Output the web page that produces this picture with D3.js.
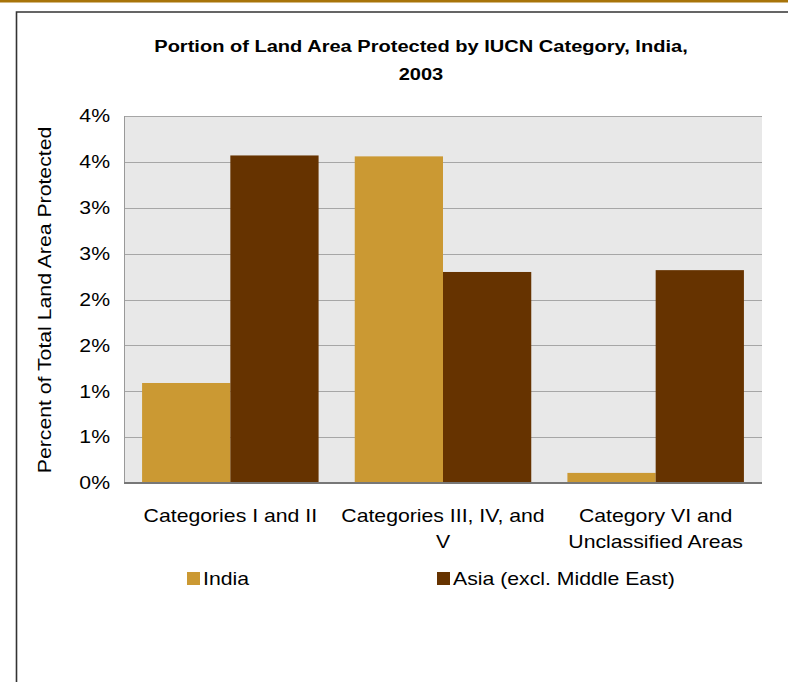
<!DOCTYPE html>
<html>
<head>
<meta charset="utf-8">
<script src="https://cdn.jsdelivr.net/npm/d3@7"></script>
<style>
  body { margin: 0; background: #fff; }
  svg { display: block; font-family: Arial, "Liberation Sans", sans-serif; }
</style>
</head>
<body>
<svg id="svg1"></svg>
<script>
// data
const categories = [["Categories I and II"], ["Categories III, IV, and", "V"], ["Category VI and", "Unclassified Areas"]];
const seriesNames = ["India", "Asia (excl. Middle East)"];
const india = [0.0109, 0.0356, 0.0011];
const asia = [0.0357, 0.0230, 0.0232];
const tickValues = [0, 0.005, 0.01, 0.015, 0.02, 0.025, 0.03, 0.035, 0.04];
const tickLabels = ["0%", "1%", "1%", "2%", "2%", "3%", "3%", "4%", "4%"];
const colors = ["#CB9933", "#663300"];

const W = 788, H = 682;
const marginLeft = 124, marginRight = 26, marginTop = 116, marginBottom = 199;
const width = W - marginLeft - marginRight;
const height = H - marginTop - marginBottom;
const stretch = 1.18; // the original text is drawn a bit wide

const svg = d3.select("#svg1").attr("width", W).attr("height", H);

// top band and frame
svg.append("rect").attr("x", 0).attr("y", 0).attr("width", W).attr("height", 2.5).attr("fill", "#A8740A");
svg.append("path")
    .attr("d", `M16.5,${H} V12 H${W}`)
    .attr("fill", "none").attr("stroke", "#333").attr("stroke-width", 1.6);

// title
const titleX = 421;
const title = svg.append("text")
    .attr("x", titleX).attr("y", 52)
    .attr("text-anchor", "middle")
    .attr("font-weight", "bold").attr("font-size", 17).attr("fill", "#000");
title.append("tspan").attr("x", titleX).text("Portion of Land Area Protected by IUCN Category, India,");
title.append("tspan").attr("x", titleX).attr("dy", 28).text("2003");

const chart = svg.append("g").attr("transform", `translate(${marginLeft}, ${marginTop})`);

const xScale = d3.scaleBand()
    .domain(d3.range(categories.length))
    .range([0, width])
    .paddingInner(0.17)
    .paddingOuter(0.085);

const xInner = d3.scaleBand()
    .domain(d3.range(seriesNames.length))
    .range([0, xScale.bandwidth()]);

const yScale = d3.scaleLinear()
    .domain([0, 0.04])
    .range([height, 0]);

chart.append("rect")
    .attr("width", width).attr("height", height)
    .attr("fill", "#E8E8E8");

// gridlines
chart.append("g")
    .selectAll("line")
    .data(tickValues.slice(1))
    .enter().append("line")
    .attr("x1", 0).attr("x2", width)
    .attr("y1", d => Math.round(yScale(d)) + 0.5)
    .attr("y2", d => Math.round(yScale(d)) + 0.5)
    .attr("stroke", "#A6A6A6").attr("stroke-width", 1);

// left axis line
chart.append("line")
    .attr("x1", 0.5).attr("x2", 0.5).attr("y1", 0).attr("y2", height)
    .attr("stroke", "#999");

const series = [india, asia];
series.forEach(function(vals, s) {
  chart.selectAll(".bar" + s)
      .data(vals)
      .enter().append("rect")
      .attr("class", "bar" + s)
      .attr("fill", colors[s])
      .attr("x", (d, i) => xScale(i) + xInner(s))
      .attr("y", d => yScale(d))
      .attr("width", xInner.bandwidth())
      .attr("height", d => height - yScale(d));
});

// bottom axis line
chart.append("line")
    .attr("x1", 0).attr("x2", width).attr("y1", height).attr("y2", height)
    .attr("stroke", "#777").attr("stroke-width", 2);

// y tick labels
const yAxis = chart.append("g")
    .call(d3.axisLeft(yScale).tickValues(tickValues).tickSize(0).tickPadding(14)
      .tickFormat((d, i) => tickLabels[i]));
yAxis.select(".domain").remove();
yAxis.selectAll("text")
    .attr("font-size", 18).attr("font-family", "Arial, 'Liberation Sans', sans-serif").attr("fill", "#000");

// category labels
const xLabels = chart.append("g")
    .selectAll("text")
    .data(categories)
    .enter().append("text")
    .attr("text-anchor", "middle")
    .attr("font-size", 18).attr("fill", "#000")
    .attr("x", (d, i) => xScale(i) + xScale.bandwidth() / 2)
    .attr("y", height + 39);
xLabels.each(function(lines, i) {
  const t = d3.select(this);
  lines.forEach(function(line, j) {
    t.append("tspan")
        .attr("x", xScale(i) + xScale.bandwidth() / 2)
        .attr("dy", j === 0 ? 0 : 26)
        .text(line);
  });
});

// y axis title
svg.append("text")
    .attr("transform", `translate(51, 300) rotate(-90)`)
    .attr("text-anchor", "middle")
    .attr("font-size", 18).attr("fill", "#000")
    .text("Percent of Total Land Area Protected");

// legend
const legendX = [187, 437];
const legend = svg.append("g").selectAll("g")
    .data(seriesNames)
    .enter().append("g")
    .attr("transform", (d, i) => `translate(${legendX[i]}, 572)`);
legend.append("rect")
    .attr("width", 13).attr("height", 13)
    .attr("fill", (d, i) => colors[i]);
legend.append("text")
    .attr("x", 16).attr("y", 13)
    .attr("font-size", 18).attr("fill", "#000")
    .text(d => d);

// widen every text horizontally about its anchor x
svg.selectAll("text").each(function() {
  const t = d3.select(this);
  const x = +(t.attr("x") || 0);
  const prev = t.attr("transform") || "";
  t.attr("transform", `${prev} translate(${x * (1 - stretch)},0) scale(${stretch},1)`);
});
</script>
</body>
</html>
